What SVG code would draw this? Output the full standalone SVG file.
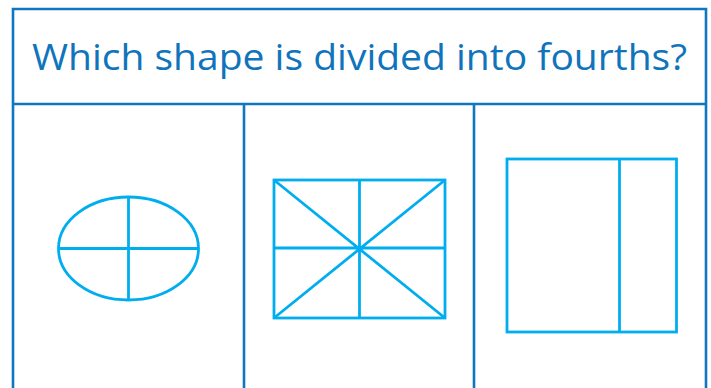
<svg xmlns="http://www.w3.org/2000/svg" width="711" height="388" viewBox="0 0 711 388">
<style>
.frame{fill:none;stroke:#0f77bf;stroke-width:2.6}
.shape{fill:none;stroke:#00aeef;stroke-width:2.8}
.title{font-family:"Open Sans","Liberation Sans",sans-serif;font-size:37px;fill:#0f74bb}
</style>
<rect width="711" height="388" fill="#fff"/>
<g id="frame">
<path class="frame" d="M13,390 V9 H706 V390 M13,104 H706 M244,104 V390 M474,104 V390"/>
</g>
<g id="title">
<text class="title" x="359.5" y="70" text-anchor="middle" textLength="655" lengthAdjust="spacingAndGlyphs">Which shape is divided into fourths?</text>
</g>
<g id="ellipse">
<ellipse class="shape" cx="128.5" cy="248.5" rx="70" ry="51.5"/>
<path class="shape" d="M128.5,197 V300 M58.5,248.5 H198.5"/>
</g>
<g id="rect8">
<rect class="shape" x="274" y="180" width="171" height="138"/>
<path class="shape" d="M359.5,180 V318 M274,248 H445 M274,180 L445,318 M445,180 L274,318"/>
</g>
<g id="rect2">
<rect class="shape" x="507" y="159" width="169.5" height="173"/>
<path class="shape" d="M619.5,159 V332"/>
</g>
</svg>
